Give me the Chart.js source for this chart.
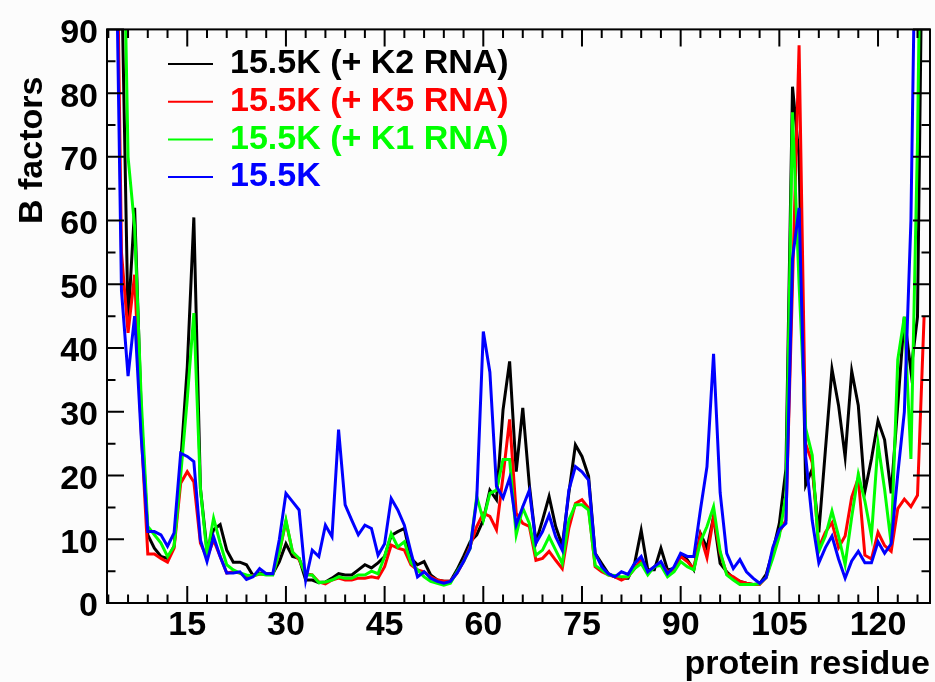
<!DOCTYPE html>
<html>
<head>
<meta charset="utf-8">
<script src="https://cdn.jsdelivr.net/npm/chart.js@4.4.1/dist/chart.umd.min.js"></script>
<style>
  html, body { margin: 0; padding: 0; background: #fcfcfc; }
  #wrap { width: 935px; height: 682px; }
</style>
</head>
<body>
<div id="wrap"><canvas id="c" width="935" height="682"></canvas></div>
<script>
// ---- data -------------------------------------------------------------
const firstResidue = 3;
const residues = Array.from({ length: 125 }, (_, i) => firstResidue + i);

const seriesLabels = ['15.5K (+ K2 RNA)', '15.5K (+ K5 RNA)', '15.5K (+ K1 RNA)', '15.5K'];
const seriesColors = ['#000000', '#ff0000', '#00ff00', '#0000ff'];

const bK2 = [
  150, 140, 100, 44, 62, 30, 10.7, 8.6, 7.3, 7.0,
  8.9, 22, 37, 60.5, 18, 8.3, 11.5, 12.3, 8.3, 6.4,
  6.4, 6.0, 4.3, 4.7, 4.6, 4.6, 6.5, 9.3, 7.3, 7.0,
  3.6, 3.6, 3.2, 3.3, 3.9, 4.6, 4.4, 4.4, 5.2, 6.0,
  5.5, 6.3, 7.3, 10.6, 11.2, 11.7, 7.0, 6.0, 6.5, 4.4,
  3.6, 3.4, 3.4, 5.2, 7.3, 9.6, 10.7, 13.0, 17.7, 16.2,
  30.3, 37.9, 20.6, 30.6, 18.5, 9.5, 13.0, 16.7, 12.0, 9.0,
  17.2, 24.8, 23.0, 19.9, 7.8, 6.2, 4.6, 4.1, 3.9, 3.9,
  6.2, 11.4, 5.2, 5.2, 8.6, 5.2, 5.4, 7.6, 6.8, 5.2,
  10.9, 8.6, 13.5, 6.2, 4.9, 3.9, 3.4, 3.1, 2.9, 3.0,
  4.5, 8.1, 12.5, 21, 81, 70, 18.5, 21, 11.1, 24,
  36.7, 31, 22.9, 36.4, 31, 17.5, 22.6, 28.6, 25.6, 17.2,
  31, 44.9, 36.4, 44.9, 130
];
const bK5 = [
  160, 130, 55, 42.4, 51.5, 27, 7.7, 7.7, 7.0, 6.4,
  8.6, 18.8, 20.6, 19.0, 9.4, 7.1, 9.9, 7.3, 4.7, 4.9,
  4.7, 4.1, 4.3, 4.5, 4.5, 4.5, 8.0, 12.8, 8.0, 6.8,
  4.6, 4.4, 3.3, 3.0, 3.6, 3.9, 3.6, 3.6, 3.9, 3.9,
  4.1, 3.9, 5.7, 9.1, 8.6, 8.3, 6.0, 5.2, 4.9, 4.1,
  3.6, 3.4, 3.4, 4.7, 6.5, 8.9, 12.0, 14.1, 13.6, 11.5,
  19.9, 28.8, 14.1, 12.5, 12.0, 6.7, 7.0, 8.1, 6.7, 5.4,
  11.7, 15.6, 16.2, 14.9, 5.7, 4.9, 4.4, 4.1, 3.6, 4.1,
  5.4, 6.8, 4.9, 5.7, 6.2, 4.9, 5.2, 7.3, 6.5, 5.4,
  10.6, 7.1, 13.5, 7.8, 4.6, 4.1, 3.4, 3.1, 2.9, 2.9,
  4.0, 7.5, 11.1, 13, 50, 87.5, 25, 22, 8.7, 11.1,
  12.6, 8.7, 10.5, 16.6, 19.6, 7.5, 6.9, 11.1, 9.0, 8.1,
  14.8, 16.3, 15.1, 16.9, 44.9
];
const bK1 = [
  180, 160, 127, 70, 59, 32, 12.0, 10.7, 9.4, 7.3,
  8.9, 20, 32, 45.5, 18, 7.6, 13.3, 9.4, 6.0, 5.2,
  4.7, 4.4, 4.2, 4.6, 4.4, 4.4, 8.0, 13.0, 8.0, 7.0,
  4.4, 4.4, 3.2, 3.3, 3.6, 4.1, 3.9, 3.9, 4.4, 4.4,
  5.0, 4.6, 7.3, 10.9, 8.8, 9.6, 6.3, 5.2, 4.1, 3.4,
  3.1, 2.8, 3.1, 4.9, 6.5, 8.6, 16.7, 13.0, 17.2, 17.7,
  22.5, 22.5, 10.7, 14.9, 12.5, 7.5, 8.3, 10.4, 8.3, 6.2,
  13.0, 15.4, 15.4, 14.6, 5.9, 5.2, 4.4, 4.3, 4.1, 4.1,
  5.4, 6.2, 4.4, 5.7, 5.9, 4.1, 4.9, 6.5, 5.7, 5.2,
  9.6, 12.0, 15.1, 8.1, 4.4, 3.6, 2.9, 2.9, 2.9, 3.0,
  4.0, 7.0, 10.5, 17, 77, 50, 27.4, 23.2, 8.1, 10.5,
  14.4, 10.5, 6.0, 13.5, 20.2, 16.0, 10.5, 25.0, 17.8, 9.3,
  38.2, 44.9, 22.6, 72.5, 150
];
const bFree = [
  160, 117, 49, 35.6, 45, 26, 11.2, 11.2, 10.7, 8.9,
  11.0, 23.5, 23.0, 22.2, 9.9, 6.5, 10.4, 7.3, 4.7, 4.7,
  4.9, 3.7, 4.1, 5.4, 4.6, 4.6, 10, 17.2, 15.9, 14.6,
  3.6, 8.3, 7.3, 12.2, 10.4, 27.2, 15.4, 13.0, 10.7, 12.2,
  11.7, 7.5, 9.3, 16.4, 14.6, 12.2, 8.0, 4.1, 4.9, 3.9,
  3.4, 3.1, 3.4, 4.7, 6.5, 8.6, 16.2, 42.6, 36.2, 18.3,
  16.5, 19.6, 12.3, 15.1, 17.7, 9.4, 11.2, 13.8, 10.4, 8.3,
  17.7, 21.4, 20.6, 19.3, 7.8, 5.7, 4.6, 4.1, 4.9, 4.5,
  6.2, 7.3, 4.9, 5.7, 6.5, 4.6, 5.7, 7.8, 7.3, 7.3,
  14.6, 21.4, 39.1, 17.3, 7.8, 5.4, 6.8, 4.9, 3.9, 3.1,
  4.0, 8.7, 11.5, 12.5, 54, 62, 23, 12.9, 6.3, 8.7,
  10.5, 6.9, 3.9, 6.6, 8.1, 6.3, 6.3, 9.6, 7.8, 9.3,
  20.2, 30, 60, 130, 170
];

const xTickValues = [15, 30, 45, 60, 75, 90, 105, 120];
const yTickValues = [0, 10, 20, 30, 40, 50, 60, 70, 80, 90];
const xMinorStep = 3;
const yMinorStep = 5;

// ---- chart -------------------------------------------------------------
const FONT = '"Liberation Sans", Arial, Helvetica, sans-serif';
const seriesValues = [bK2, bK5, bK1, bFree];
const drawOrder = [4, 3, 2, 1];

const datasets = seriesValues.map((vals, k) => ({
  label: seriesLabels[k],
  data: residues.map((r, i) => ({ x: r, y: vals[i] })),
  borderColor: seriesColors[k],
  backgroundColor: seriesColors[k],
  borderWidth: 3,
  pointRadius: 0,
  tension: 0,
  fill: false,
  clip: 0,
  order: drawOrder[k]
}));

const bgPlugin = {
  id: 'bg',
  beforeDraw(chart) {
    const { ctx, width, height } = chart;
    ctx.save();
    ctx.fillStyle = '#fcfcfc';
    ctx.fillRect(0, 0, width, height);
    ctx.restore();
  }
};

const framePlugin = {
  id: 'frame',
  afterDatasetsDraw(chart) {
    const { ctx, chartArea, scales } = chart;
    const { left, right, top, bottom } = chartArea;
    const xs = scales.x, ys = scales.y;
    ctx.save();
    ctx.strokeStyle = '#000';
    ctx.lineWidth = 2;
    ctx.strokeRect(left, top, right - left, bottom - top);
    ctx.beginPath();
    for (let v = Math.ceil(xs.min / xMinorStep) * xMinorStep; v <= xs.max; v += xMinorStep) {
      const px = xs.getPixelForValue(v);
      const len = xTickValues.includes(v) ? 17 : 8.5;
      ctx.moveTo(px, bottom); ctx.lineTo(px, bottom - len);
      ctx.moveTo(px, top); ctx.lineTo(px, top + len);
    }
    for (let v = ys.min; v <= ys.max; v += yMinorStep) {
      const py = ys.getPixelForValue(v);
      const len = yTickValues.includes(v) ? 17 : 8.5;
      ctx.moveTo(left, py); ctx.lineTo(left + len, py);
      ctx.moveTo(right, py); ctx.lineTo(right - len, py);
    }
    ctx.stroke();
    ctx.restore();
  }
};

const legendPlacement = {
  id: 'legendPlacement',
  afterLayout(chart) {
    const lg = chart.legend;
    if (!lg) return;
    lg.left = 164.3;
    lg.top = 43.3;
  }
};

new Chart(document.getElementById('c'), {
  type: 'line',
  data: { datasets },
  options: {
    responsive: false,
    animation: false,
    events: [],
    layout: { padding: { top: 27, right: 5, left: 0, bottom: 0 } },
    scales: {
      x: {
        type: 'linear',
        min: 2.8,
        max: 127.9,
        afterBuildTicks: s => { s.ticks = xTickValues.map(v => ({ value: v })); },
        afterFit: s => { s.height = 79; },
        grid: { display: false, drawTicks: false },
        border: { display: false },
        ticks: {
          autoSkip: false, maxRotation: 0, padding: 2, color: '#000',
          font: { family: FONT, size: 34, weight: 'bold' },
          callback: v => String(v)
        },
        title: {
          display: true, text: 'protein residue', align: 'end', color: '#000',
          font: { family: FONT, size: 34, weight: 'bold', lineHeight: 1 },
          padding: { top: 0, bottom: 0 }
        }
      },
      y: {
        min: 0,
        max: 90,
        afterBuildTicks: s => { s.ticks = yTickValues.map(v => ({ value: v })); },
        afterFit: s => { s.width = 107; },
        grid: { display: false, drawTicks: false },
        border: { display: false },
        ticks: {
          padding: 9, labelOffset: 4, color: '#000',
          font: { family: FONT, size: 34, weight: 'bold' },
          callback: v => String(v)
        },
        title: {
          display: true, text: 'B factors     ', align: 'end', color: '#000',
          font: { family: FONT, size: 34, weight: 'bold', lineHeight: 1 },
          padding: { top: 16, bottom: 0 }
        }
      }
    },
    plugins: {
      tooltip: { enabled: false },
      legend: {
        display: true,
        position: 'chartArea',
        align: 'start',
        labels: {
          boxWidth: 45,
          boxHeight: 2,
          padding: 3.7,
          font: { family: FONT, size: 34, weight: 'bold' },
          generateLabels: chart => chart.data.datasets.map((ds, i) => ({
            text: ds.label,
            fillStyle: ds.borderColor,
            strokeStyle: ds.borderColor,
            fontColor: ds.borderColor,
            lineWidth: 0,
            hidden: false,
            datasetIndex: i
          }))
        }
      }
    }
  },
  plugins: [bgPlugin, framePlugin, legendPlacement]
});
</script>
</body>
</html>
